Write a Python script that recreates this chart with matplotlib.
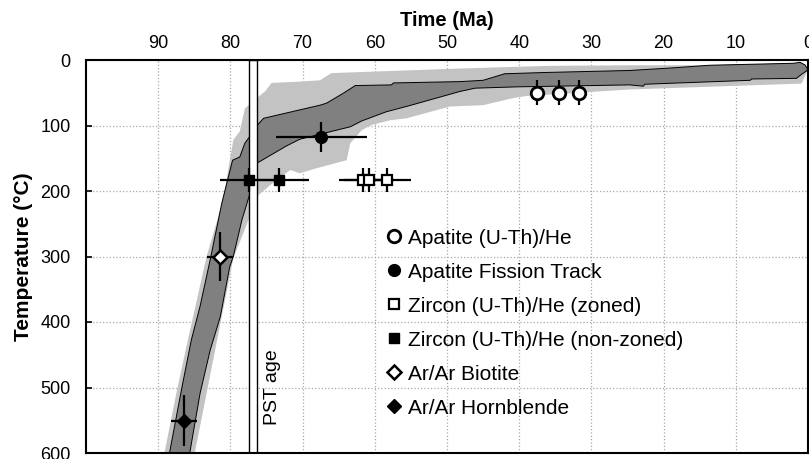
import numpy as np
import matplotlib.pyplot as plt
from matplotlib.patches import Rectangle

plt.rcParams['font.family'] = ['Liberation Sans', 'DejaVu Sans']

# envelope of acceptable paths (light) - cool edge then hot edge, (Ma, degC)
light_cool_t = [89.5, 89.1, 87.4, 86.1, 83.3, 81.0, 79.6, 78.7, 78.0, 76.1, 75.2, 74.3,
                70.4, 67.6, 66.0, 48.2, 36.2, 24.7, 13.6, 2.0, 1.1, 0.0]
light_cool_T = [610, 598, 504, 438, 300, 214, 122, 109, 74, 56, 48, 35,
                33, 31, 20, 13, 9, 8, 8, 5, 3.5, 15]
light_hot_t = [84.8, 84.9, 79.6, 77.3, 76.1, 73.6, 71.7, 70.4, 68.0, 63.9, 63.4, 61.8,
               60.4, 57.9, 55.6, 49.6, 45.0, 40.8, 39.0, 24.7, 0.9, 0.0]
light_hot_T = [610, 598, 303, 239, 206, 183, 168, 173, 165, 153, 127, 107,
               99, 92, 89, 71, 69, 58, 55, 45, 36, 15]

# good paths (dark)
dark_cool_t = [88.7, 88.4, 86.7, 85.4, 84.2, 82.8, 81.2, 80.5, 79.7, 78.7, 78.0, 77.4,
               76.4, 75.4, 67.6, 66.7, 64.4, 62.7, 57.7, 57.4, 48.2, 45.0, 42.0, 36.2,
               24.7, 18.7, 13.6, 2.0, 1.1, 0.4, 0.0]
dark_cool_T = [610, 598, 499, 427, 376, 305, 219, 188, 153, 148, 127, 118,
               101, 89, 69, 66, 51, 39, 38, 35, 33, 31, 21, 19,
               16, 12, 8, 5, 3.5, 7.6, 15]
dark_hot_t = [85.5, 85.6, 84.2, 82.8, 81.4, 80.1, 79.6, 78.4, 77.3, 76.4, 72.2, 70.4,
              63.4, 61.8, 58.4, 55.3, 48.2, 46.1, 40.3, 24.7, 22.8, 22.6, 8.0, 7.8,
              1.6, 0.9, 0.0]
dark_hot_T = [610, 598, 509, 443, 392, 316, 300, 244, 204, 158, 131, 121,
              102, 93, 79, 70, 48, 43, 41, 38, 40, 37, 31, 29,
              28, 22, 15]

# thermochronology data
ahe_t = [37.5, 34.5, 31.7]
ahe_T = [50, 50, 50]
ahe_Terr = [19, 19, 19]
aft_t = [67.4]
aft_T = [117]
aft_terr = [6.3]
aft_Terr = [23]
zhe_z_t = [61.6, 60.8, 58.3]
zhe_z_T = [183, 183, 183]
zhe_z_terr = [3.4, 3.4, 3.3]
zhe_z_Terr = [18, 18, 18]
zhe_nz_t = [77.4, 73.3]
zhe_nz_T = [183, 183]
zhe_nz_terr = [4.1, 4.2]
zhe_nz_Terr = [18, 18]
bio_t = [81.4]
bio_T = [300]
bio_terr = [1.8]
bio_Terr = [38]
hbl_t = [86.4]
hbl_T = [551]
hbl_terr = [1.8]
hbl_Terr = [39]

pst_age = [76.3, 77.4]

fig = plt.figure(figsize=(8.09, 4.59), dpi=100)
ax = fig.add_axes([86 / 809, 6 / 459, 722 / 809, 393 / 459])

ax.fill(light_cool_t + light_hot_t[::-1], light_cool_T + light_hot_T[::-1],
        color='#c3c3c3', lw=0, zorder=1)
ax.fill(dark_cool_t + dark_hot_t[::-1], dark_cool_T + dark_hot_T[::-1],
        facecolor='#808080', edgecolor='black', lw=0.7, zorder=2)

# PST age box
ax.add_patch(Rectangle((pst_age[0], 0), pst_age[1] - pst_age[0], 600,
                       facecolor='white', edgecolor='black', lw=1.0, zorder=3))
ax.text(74.1, 557, 'PST age', rotation=90, ha='center', va='bottom', fontsize=14, zorder=3)

eb = dict(fmt='none', ecolor='black', elinewidth=1.6, capsize=0, zorder=4)
ax.errorbar(ahe_t, ahe_T, yerr=ahe_Terr, **eb)
ax.errorbar(aft_t, aft_T, xerr=aft_terr, yerr=aft_Terr, **eb)
ax.errorbar(zhe_z_t, zhe_z_T, xerr=zhe_z_terr, yerr=zhe_z_Terr, **eb)
ax.errorbar(zhe_nz_t, zhe_nz_T, xerr=zhe_nz_terr, yerr=zhe_nz_Terr, **eb)
ax.errorbar(bio_t, bio_T, xerr=bio_terr, yerr=bio_Terr, **eb)
ax.errorbar(hbl_t, hbl_T, xerr=hbl_terr, yerr=hbl_Terr, **eb)

mk = dict(ls='none', mec='black', zorder=5)
ax.plot(ahe_t, ahe_T, 'o', ms=9, mfc='white', mew=2.0, label='Apatite (U-Th)/He', **mk)
ax.plot(aft_t, aft_T, 'o', ms=8.5, mfc='black', mew=1, label='Apatite Fission Track', **mk)
ax.plot(zhe_z_t, zhe_z_T, 's', ms=6.5, mfc='white', mew=1.6, label='Zircon (U-Th)/He (zoned)', **mk)
ax.plot(zhe_nz_t, zhe_nz_T, 's', ms=6.5, mfc='black', mew=1, label='Zircon (U-Th)/He (non-zoned)', **mk)
ax.plot(bio_t, bio_T, 'D', ms=7, mfc='white', mew=1.8, label='Ar/Ar Biotite', **mk)
ax.plot(hbl_t, hbl_T, 'D', ms=7, mfc='black', mew=1, label='Ar/Ar Hornblende', **mk)

ax.legend(loc='upper left', bbox_to_anchor=(0.4155, 0.571), frameon=False, fontsize=15,
          handlelength=0.8, handletextpad=0.25, labelspacing=0.72, borderpad=0,
          borderaxespad=0)

ax.set_xlim(100, 0)
ax.set_ylim(600, 0)
ax.set_xticks(np.arange(0, 100, 10))
ax.set_yticks(np.arange(0, 700, 100))
ax.xaxis.tick_top()
ax.xaxis.set_label_position('top')
ax.tick_params(axis='x', length=0, labelsize=13, pad=6)
ax.tick_params(axis='y', direction='in', length=4, width=1.2, labelsize=13, pad=11)
ax.set_xlabel('Time (Ma)', fontsize=14.5, fontweight='bold', labelpad=6)
ax.set_ylabel('Temperature (°C)', fontsize=15, fontweight='bold', labelpad=5)
ax.grid(True, ls=':', color='#a8a8a8', lw=0.9)
ax.set_axisbelow(True)
for s in ax.spines.values():
    s.set_linewidth(1.5)
    s.set_zorder(6)

fig.savefig('out.png', dpi=100)
